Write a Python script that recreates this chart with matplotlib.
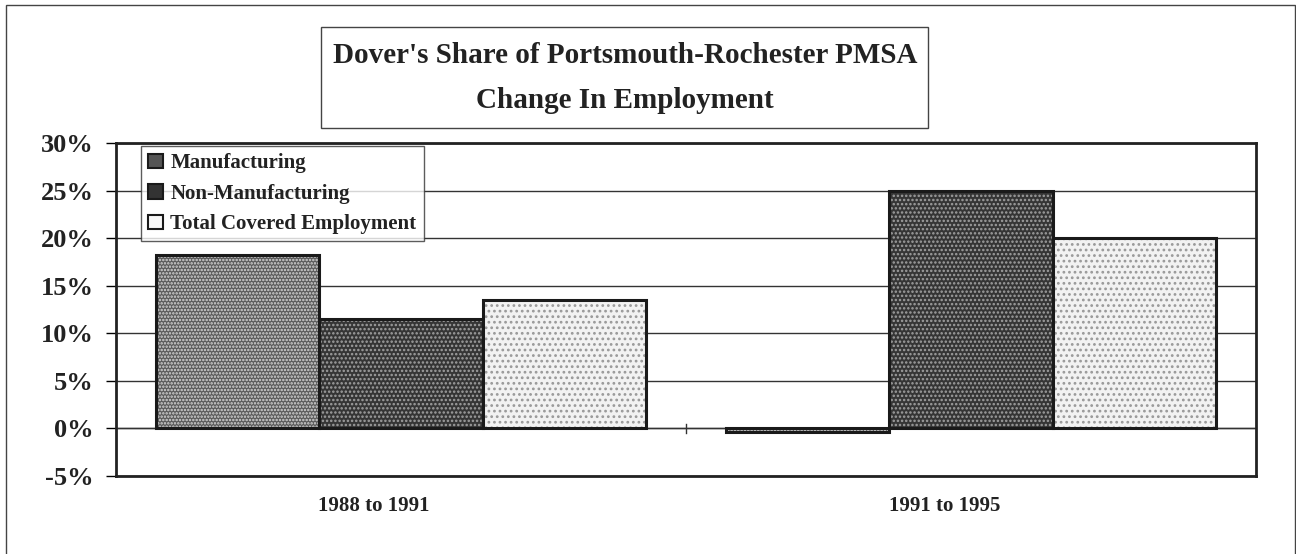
import matplotlib.pyplot as plt
import numpy as np
from matplotlib.patches import Rectangle, Patch

# Datos
categorias = ['1988 to 1991', '1991 to 1995']
series = ['Manufacturing', 'Non-Manufacturing', 'Total Covered Employment']
manufacturing = [18.2, -0.4]
non_manufacturing = [11.5, 25.0]
total_empleo = [13.5, 20.0]
yticks = [-5, 0, 5, 10, 15, 20, 25, 30]

plt.rcParams['font.family'] = ['Liberation Serif', 'DejaVu Serif']
plt.rcParams['hatch.linewidth'] = 1.2

W, H = 1296, 554
fig = plt.figure(figsize=(W / 100, H / 100), dpi=100)

# Marco exterior (el borde inferior queda fuera de la imagen)
fig.patches.append(Rectangle((6 / W, 1 - 560 / H), 1289 / W, 555 / H,
                             transform=fig.transFigure, fill=False,
                             edgecolor='#444444', linewidth=1.0))

ax = fig.add_axes([116 / W, 1 - 476 / H, (1256 - 116) / W, (476 - 143) / H])

estilos = [
    dict(facecolor='#5a5a5a', hatch='.....', hcolor=(1, 1, 1, 0.75)),
    dict(facecolor='#353535', hatch='....', hcolor=(1, 1, 1, 0.5)),
    dict(facecolor='#f2f2f2', hatch='...', hcolor=(0.6, 0.6, 0.6, 1)),
]
valores = [manufacturing, non_manufacturing, total_empleo]

x = np.arange(len(categorias))
ancho = 0.287
for i, (vals, est) in enumerate(zip(valores, estilos)):
    pos = x + (i - 1) * ancho
    barras = ax.bar(pos, vals, width=ancho, facecolor=est['facecolor'],
                    edgecolor='#1a1a1a', linewidth=2.2, zorder=3)
    for b in barras:
        b.set_hatch(est['hatch'])
        b._hatch_color = est['hcolor']

ax.set_xlim(-0.5, 1.5)
ax.set_ylim(-5, 30)
ax.set_yticks(yticks)
ax.set_yticklabels([f'{v}%' for v in yticks], fontsize=19, fontweight='bold',
                   color='#222222')
ax.tick_params(axis='y', direction='out', length=7, width=1, pad=9)
ax.grid(axis='y', color='#333333', linewidth=1, zorder=0)

# eje x: marca central y etiquetas
ax.set_xticks([])
ax.axhline(0, color='#333333', linewidth=1, zorder=1)
ax.plot([0.5, 0.5], [-0.45, 0.45], color='#333333', linewidth=1, zorder=2)
for xi, cat in zip(x, categorias):
    ax.text(xi - 0.047, -8.2, cat, ha='center', va='center', fontsize=15,
            fontweight='bold', color='#222222')

for s in ax.spines.values():
    s.set_linewidth(2)
    s.set_color('#222222')

# Leyenda
handles = [Patch(facecolor=c, edgecolor='#1a1a1a', linewidth=1.5)
           for c in ['#555555', '#333333', '#f8f8f8']]
leg = ax.legend(handles, series, loc='upper left', bbox_to_anchor=(0.022, 0.991),
                prop={'weight': 'bold', 'size': 15},
                frameon=True, fancybox=False, edgecolor='#333333',
                handlelength=0.7, handleheight=0.7, handletextpad=0.35,
                labelspacing=0.5, borderpad=0.35, borderaxespad=0)
for t in leg.get_texts():
    t.set_color('#222222')
leg.get_frame().set_linewidth(1)
leg.set_zorder(5)

# Título en recuadro
fig.text(625 / W, 1 - 78 / H,
         "Dover's Share of Portsmouth-Rochester PMSA\nChange In Employment",
         ha='center', va='center', fontsize=21, fontweight='bold',
         color='#222222', linespacing=1.85)
fig.patches.append(Rectangle((321 / W, 1 - 128 / H), 607 / W, 101 / H,
                             transform=fig.transFigure, fill=False,
                             edgecolor='#444444', linewidth=1))

plt.savefig('out.png', dpi=100)
